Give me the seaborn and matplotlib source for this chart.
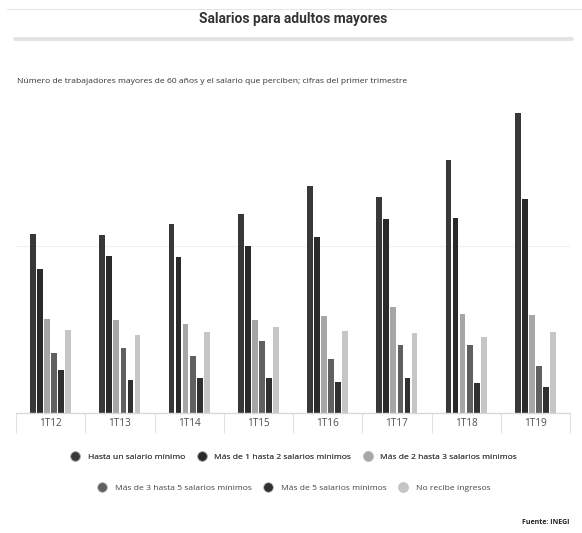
import numpy as np
import pandas as pd
import seaborn as sns
import matplotlib.pyplot as plt
from matplotlib.lines import Line2D

# Workers aged 60+ by income bracket, first quarter of each year (thousands)
trimestres = ["1T12", "1T13", "1T14", "1T15", "1T16", "1T17", "1T18", "1T19"]
categorias = [
    "Hasta un salario mínimo",
    "Más de 1 hasta 2 salarios mínimos",
    "Más de 2 hasta 3 salarios mínimos",
    "Más de 3 hasta 5 salarios mínimos",
    "Más de 5 salarios mínimos",
    "No recibe ingresos",
]
hasta_1 = [1070, 1064, 1132, 1192, 1359, 1292, 1513, 1795]
de_1_a_2 = [860, 940, 932, 1000, 1054, 1160, 1166, 1281]
de_2_a_3 = [563, 557, 533, 557, 583, 633, 593, 587]
de_3_a_5 = [357, 387, 343, 433, 323, 407, 407, 283]
mas_de_5 = [257, 198, 208, 211, 187, 208, 181, 154]
sin_ingresos = [497, 467, 487, 513, 493, 477, 455, 483]

series = [hasta_1, de_1_a_2, de_2_a_3, de_3_a_5, mas_de_5, sin_ingresos]
colores = ["#383838", "#2a2a2a", "#a6a6a6", "#606060", "#303030", "#c6c6c6"]

rows = []
for cat, vals in zip(categorias, series):
    for t, v in zip(trimestres, vals):
        rows.append({"trimestre": t, "categoria": cat, "valor": v})
df = pd.DataFrame(rows)

sns.set_theme(style="white")
plt.rcParams["font.family"] = ["Open Sans", "DejaVu Sans"]

fig = plt.figure(figsize=(5.82, 5.33), dpi=100)
ax = fig.add_axes([16 / 582, 120 / 533, 554 / 582, 334 / 533])

sns.barplot(data=df, x="trimestre", y="valor", hue="categoria",
            order=trimestres, hue_order=categorias,
            palette=colores, width=0.61, gap=0.18,
            edgecolor="white", linewidth=0.0, legend=False, ax=ax)

ax.set_ylim(0, 2000)
ax.set_xlim(-0.5, len(trimestres) - 0.5)
ax.set_yticks([1000])
ax.set_yticklabels([])
ax.yaxis.grid(True, color="#f0f0f0", linewidth=0.8)
ax.set_axisbelow(True)
ax.set_xlabel("")
ax.set_ylabel("")
for side in ["top", "right", "left"]:
    ax.spines[side].set_visible(False)
ax.spines["bottom"].set_color("#d8d8d8")
ax.spines["bottom"].set_linewidth(1.0)

# category separators under the baseline
ax.set_xticks(np.arange(-0.5, len(trimestres)), minor=True)
ax.tick_params(axis="x", which="minor", length=14.5, color="#e2e2e2",
               width=0.8, direction="out", bottom=True)
ax.tick_params(axis="x", which="major", length=0, pad=3.5,
               labelsize=7.2, labelcolor="#505050")
ax.tick_params(axis="y", length=0)

# header
fig.add_artist(Line2D([7 / 582, 1], [1 - 9 / 533] * 2, color="#e6e6e6", lw=0.8))
fig.text(293.5 / 582, 1 - 19 / 533, "Salarios para adultos mayores",
         ha="center", va="center", fontsize=9.9, fontweight="bold",
         family=["Roboto", "DejaVu Sans"], color="#333333")
fig.add_artist(Line2D([15 / 582, 572 / 582], [1 - 39 / 533] * 2,
                      color="#e3e3e3", lw=2.8))
fig.text(17 / 582, 1 - 81 / 533,
         "Número de trabajadores mayores de 60 años y el salario que perciben; cifras del primer trimestre",
         ha="left", va="center", fontsize=6.1, color="#333333")

# legend in two centred rows
def handle(c):
    return Line2D([], [], marker="o", linestyle="", markersize=7,
                  markerfacecolor=c, markeredgecolor="#bdbdbd",
                  markeredgewidth=0.6)

handles = [handle(c) for c in colores]
kw = dict(frameon=False, fontsize=6.1, handletextpad=0.45, columnspacing=1.0,
          labelcolor="#444444", loc="center")
leg1 = fig.legend(handles[:3], categorias[:3], ncol=3,
                  bbox_to_anchor=(292 / 582, 1 - 457 / 533), **kw)
fig.add_artist(leg1)
fig.legend(handles[3:], categorias[3:], ncol=3,
           bbox_to_anchor=(292 / 582, 1 - 488 / 533), **kw)

fig.text(570 / 582, 1 - 523 / 533, "Fuente: INEGI", ha="right", va="center",
         fontsize=5.0, fontweight="bold", color="#222222")

fig.savefig("out.png", dpi=100)
